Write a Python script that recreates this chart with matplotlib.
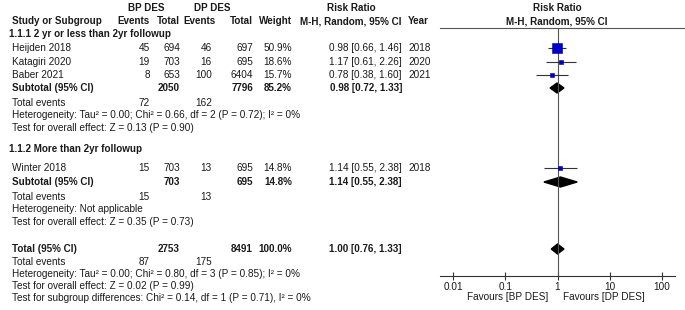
import matplotlib
matplotlib.use("Agg")
import matplotlib.pyplot as plt
from matplotlib.patches import Polygon

plt.rcParams["font.family"] = ["Liberation Sans", "DejaVu Sans"]

# study level data
studies = ["Heijden 2018", "Katagiri 2020", "Baber 2021", "Winter 2018"]
bp_events = [45, 19, 8, 15]
bp_total = [694, 703, 653, 703]
dp_events = [46, 16, 100, 13]
dp_total = [697, 695, 6404, 695]
weights = [50.9, 18.6, 15.7, 14.8]
rr = [0.98, 1.17, 0.78, 1.14]
ci_low = [0.66, 0.61, 0.38, 0.55]
ci_high = [1.46, 2.26, 1.60, 2.38]
years = [2018, 2020, 2021, 2018]

# subgroups
sub_names = ["1.1.1 2 yr or less than 2yr followup", "1.1.2 More than 2yr followup"]
sub_bp_total = [2050, 703]
sub_dp_total = [7796, 695]
sub_weight = [85.2, 14.8]
sub_rr = [0.98, 1.14]
sub_low = [0.72, 0.55]
sub_high = [1.33, 2.38]
sub_bp_events = [72, 15]
sub_dp_events = [162, 13]
sub_het = ["Heterogeneity: Tau\u00b2 = 0.00; Chi\u00b2 = 0.66, df = 2 (P = 0.72); I\u00b2 = 0%",
           "Heterogeneity: Not applicable"]
sub_test = ["Test for overall effect: Z = 0.13 (P = 0.90)",
            "Test for overall effect: Z = 0.35 (P = 0.73)"]

# overall
tot_bp_total = 2753
tot_dp_total = 8491
tot_weight = 100.0
tot_rr, tot_low, tot_high = 1.00, 0.76, 1.33
tot_bp_events = 87
tot_dp_events = 175
tot_notes = ["Heterogeneity: Tau\u00b2 = 0.00; Chi\u00b2 = 0.80, df = 3 (P = 0.85); I\u00b2 = 0%",
             "Test for overall effect: Z = 0.02 (P = 0.99)",
             "Test for subgroup differences: Chi\u00b2 = 0.14, df = 1 (P = 0.71), I\u00b2 = 0%"]

ticks = [0.01, 0.1, 1, 10, 100]
tick_labels = ["0.01", "0.1", "1", "10", "100"]

# layout (pixel rows from top)
study_rows = [48, 62, 75, 168]
sub_head_rows = [34, 149]
sub_rows = [88, 182]
sub_event_rows = [103, 197]
tot_row = 249
tot_event_row = 262
tot_note_rows = [274, 286, 298]

# column right edges
c_bpe, c_bpt, c_dpe, c_dpt, c_w, c_ci, c_year = 150, 180, 212, 253, 292, 402, 408

W, H = 685, 310
fig = plt.figure(figsize=(W / 100, H / 100), dpi=100)
tx = fig.add_axes([0, 0, 1, 1])
tx.set_xlim(0, W)
tx.set_ylim(H, 0)
tx.axis("off")

fs = 7.2
col = "#1a1a1a"


def put(x, y, s, ha="left", bold=False, size=fs):
    tx.text(x, y, s, ha=ha, va="center", fontsize=size, color=col,
            fontweight="bold" if bold else "normal")


# headers
hs = 7.1
put(146, 8, "BP DES", "center", True, hs)
put(212, 8, "DP DES", "center", True, hs)
put(351, 8, "Risk Ratio", "center", True, hs)
put(557, 8, "Risk Ratio", "center", True, hs)
put(12, 21, "Study or Subgroup", bold=True, size=hs)
put(c_bpe, 21, "Events", "right", True, hs)
put(c_bpt, 21, "Total", "right", True, hs)
put(c_dpe + 4, 21, "Events", "right", True, hs)
put(c_dpt, 21, "Total", "right", True, hs)
put(c_w, 21, "Weight", "right", True, hs)
put(c_ci, 21, "M-H, Random, 95% CI", "right", True, hs)
put(c_year, 21, "Year", bold=True, size=hs)
put(557, 21, "M-H, Random, 95% CI", "center", True, hs)

groups = [[0, 1, 2], [3]]
for g, idx in enumerate(groups):
    put(9, sub_head_rows[g], sub_names[g], bold=True, size=hs)
    for i in idx:
        y = study_rows[i]
        put(12, y, studies[i])
        put(c_bpe, y, str(bp_events[i]), "right")
        put(c_bpt, y, str(bp_total[i]), "right")
        put(c_dpe, y, str(dp_events[i]), "right")
        put(c_dpt, y, str(dp_total[i]), "right")
        put(c_w, y, f"{weights[i]:.1f}%", "right")
        put(c_ci, y, f"{rr[i]:.2f} [{ci_low[i]:.2f}, {ci_high[i]:.2f}]", "right")
        put(c_year, y, str(years[i]))
    y = sub_rows[g]
    put(12, y, "Subtotal (95% CI)", bold=True, size=hs)
    put(c_bpt, y, str(sub_bp_total[g]), "right", True, hs)
    put(c_dpt, y, str(sub_dp_total[g]), "right", True, hs)
    put(c_w, y, f"{sub_weight[g]:.1f}%", "right", True, hs)
    put(c_ci, y, f"{sub_rr[g]:.2f} [{sub_low[g]:.2f}, {sub_high[g]:.2f}]", "right", True, hs)
    y = sub_event_rows[g]
    put(12, y, "Total events")
    put(c_bpe, y, str(sub_bp_events[g]), "right")
    put(c_dpe, y, str(sub_dp_events[g]), "right")
    put(12, y + 12, sub_het[g])
    put(12, y + 25, sub_test[g])

put(12, tot_row, "Total (95% CI)", bold=True, size=hs)
put(c_bpt, tot_row, str(tot_bp_total), "right", True, hs)
put(c_dpt, tot_row, str(tot_dp_total), "right", True, hs)
put(c_w, tot_row, f"{tot_weight:.1f}%", "right", True, hs)
put(c_ci, tot_row, f"{tot_rr:.2f} [{tot_low:.2f}, {tot_high:.2f}]", "right", True, hs)
put(12, tot_event_row, "Total events")
put(c_bpe, tot_event_row, str(tot_bp_events), "right")
put(c_dpe, tot_event_row, str(tot_dp_events), "right")
for yy, s in zip(tot_note_rows, tot_notes):
    put(12, yy, s)

put(548, 297, "Favours [BP DES]", "right")
put(563, 297, "Favours [DP DES]")

# header rule
tx.plot([440, W], [28, 28], color="#555555", lw=0.8)

# forest panel
top, bot, left, right = 28, 276, 440, 675
ax = fig.add_axes([left / W, (H - bot) / H, (right - left) / W, (bot - top) / H])
ax.patch.set_alpha(0)
ax.set_xscale("log")
ax.set_xlim(10 ** -2.249, 10 ** 2.249)
ax.set_ylim(bot, top)
for s in ["top", "left", "right"]:
    ax.spines[s].set_visible(False)
ax.spines["bottom"].set_color("#333333")
ax.spines["bottom"].set_linewidth(0.8)
ax.set_yticks([])
ax.set_xticks(ticks)
ax.set_xticklabels(tick_labels)
ax.minorticks_off()
ax.tick_params(axis="x", direction="inout", length=6, width=0.8, color="#333333",
               labelsize=fs, pad=1, labelcolor=col)
ax.plot([1, 1], [top, bot], color="#555555", lw=0.8)

ax.hlines(study_rows, ci_low, ci_high, color="#333333", lw=0.8)
for i in range(len(studies)):
    side = 2 + 0.16 * weights[i]
    ax.plot(rr[i], study_rows[i], "s", ms=side * 0.72, color="#0000cc",
            mec="#000099", mew=0.4)


def diamond(c, lo, hi, y):
    ax.add_patch(Polygon([(lo, y), (c, y - 5), (hi, y), (c, y + 5)],
                         closed=True, color="black"))


for g in range(2):
    diamond(sub_rr[g], sub_low[g], sub_high[g], sub_rows[g])
diamond(tot_rr, tot_low, tot_high, tot_row)

fig.savefig("out.png", dpi=100)
